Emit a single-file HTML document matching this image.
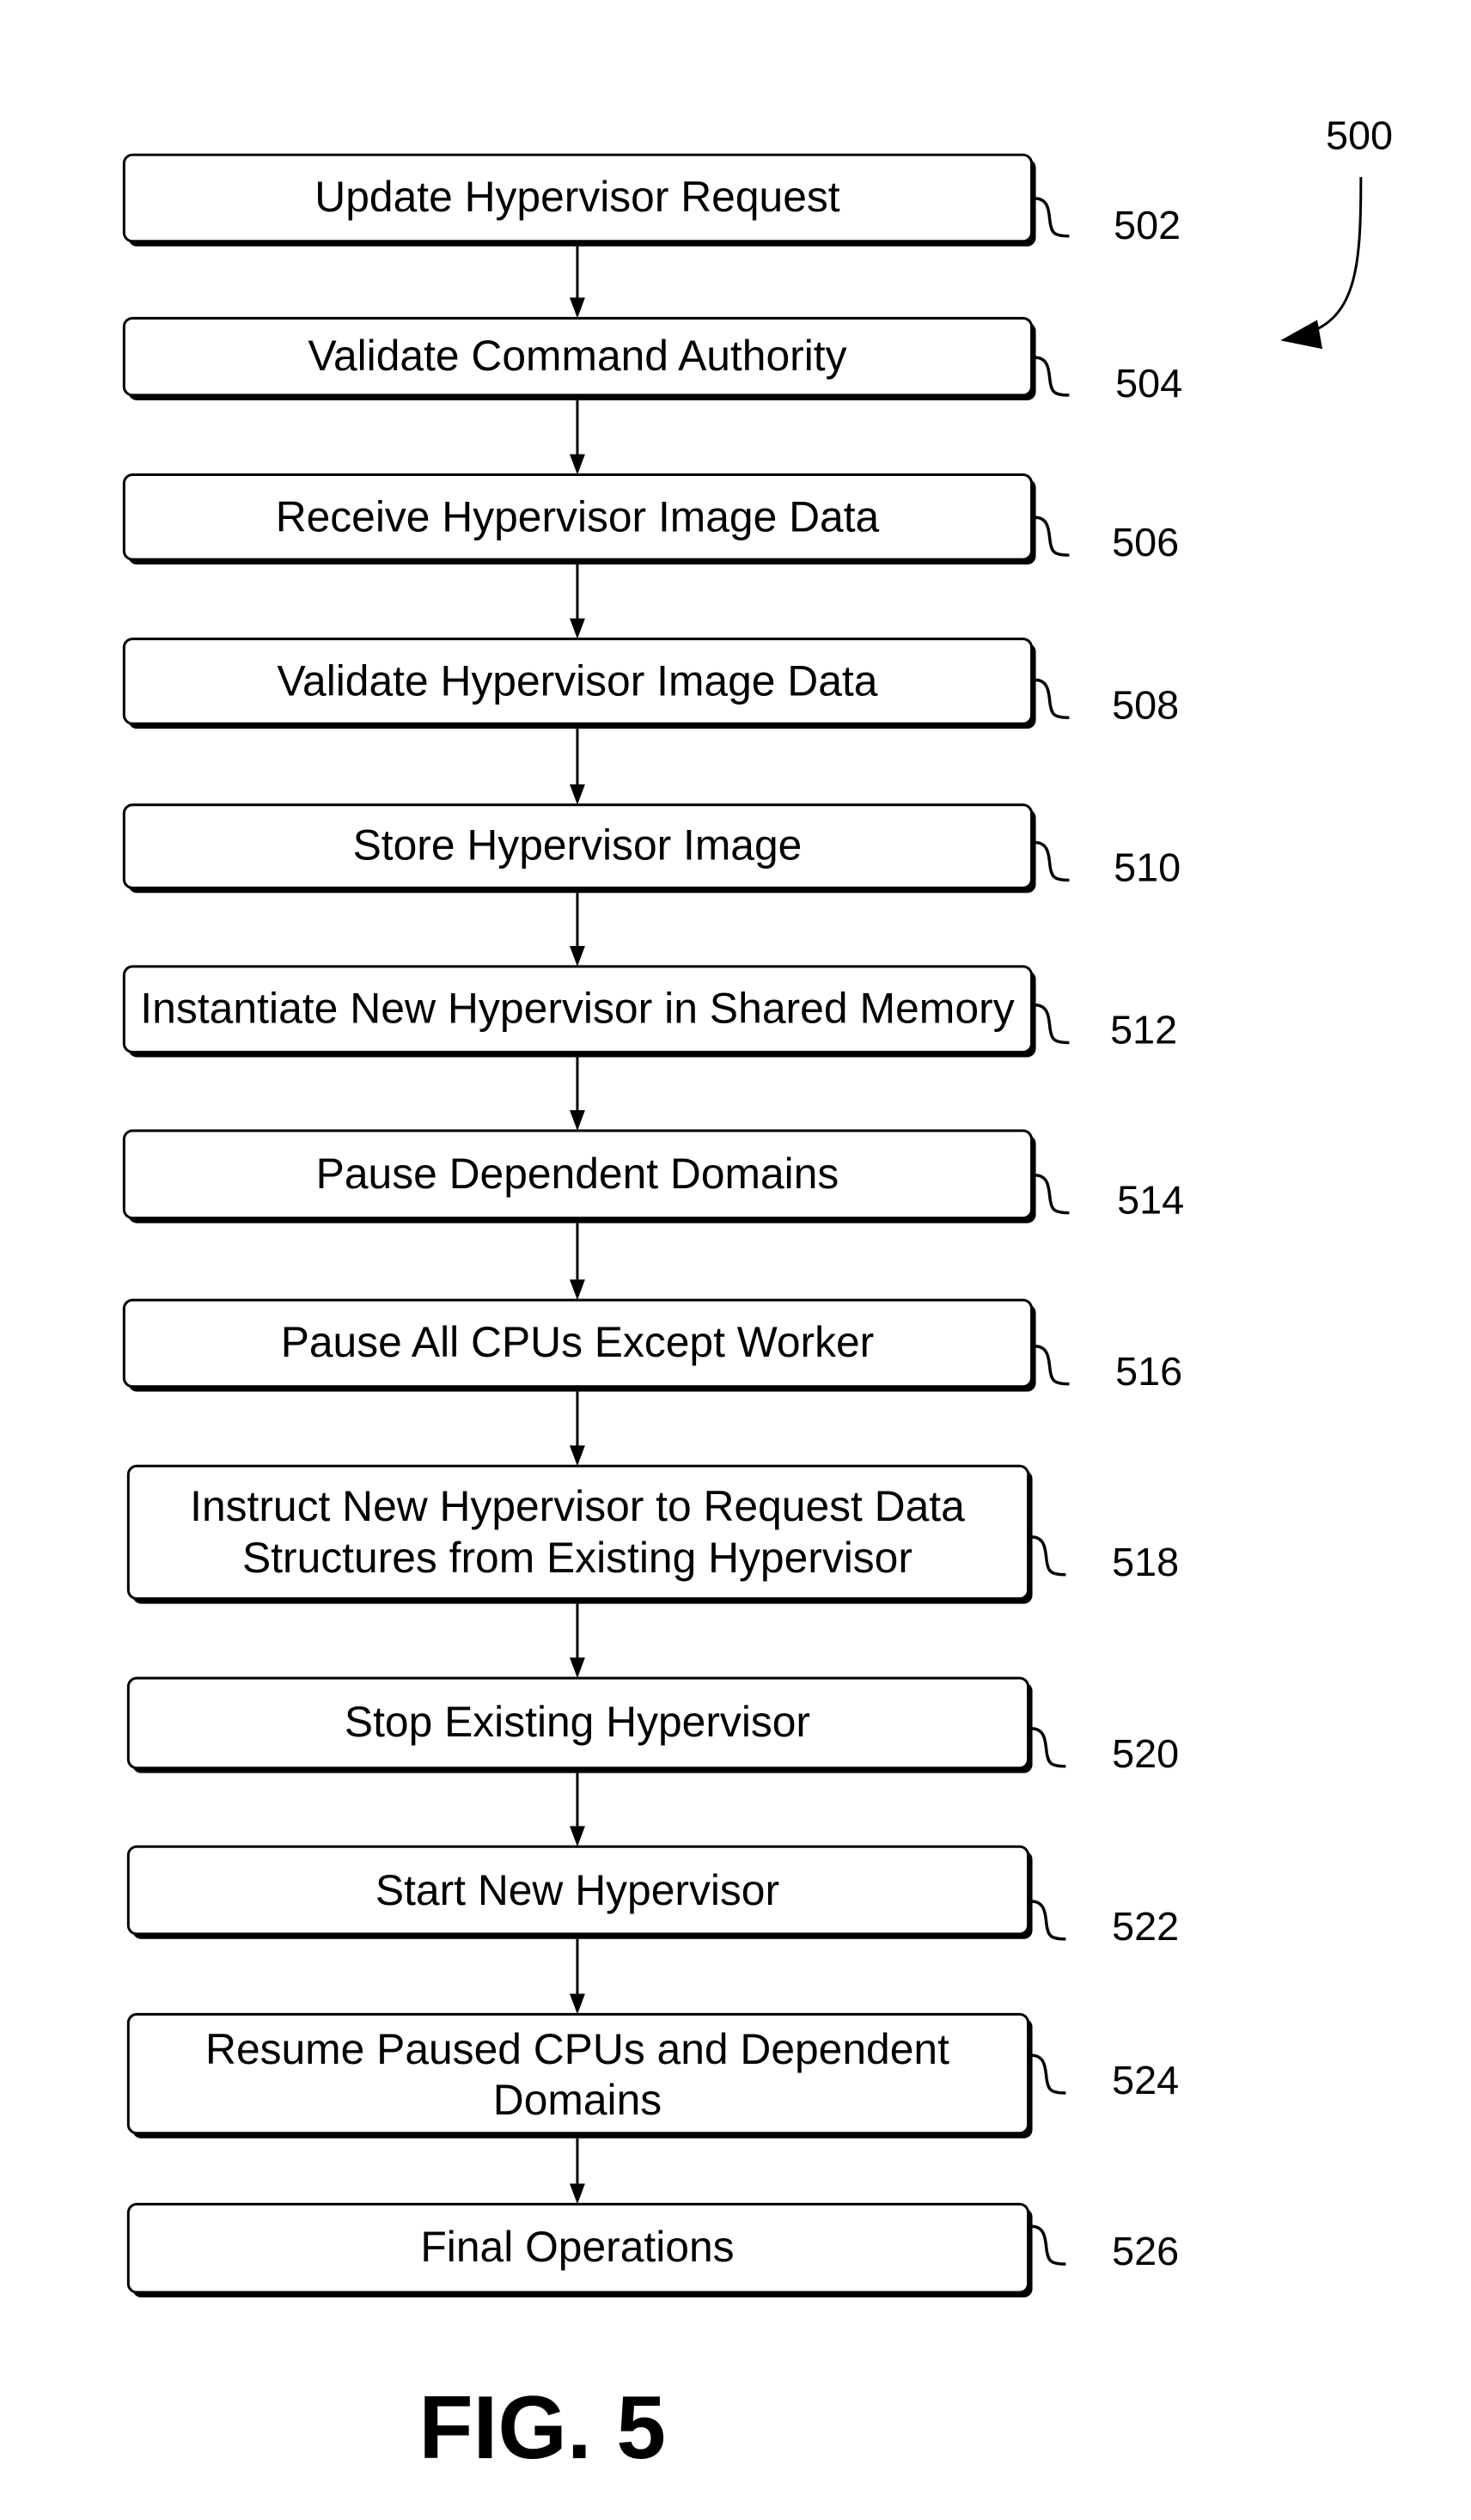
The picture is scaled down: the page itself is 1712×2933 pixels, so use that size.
<!DOCTYPE html>
<html><head><meta charset="utf-8"><style>html,body{margin:0;padding:0;background:#fff}svg{display:block}</style></head>
<body>
<svg width="1712" height="2933" viewBox="0 0 1712 2933" xmlns="http://www.w3.org/2000/svg" font-family="Liberation Sans, Arial, sans-serif">
<g transform="scale(0.9955)">
<g stroke="#000" stroke-width="3" fill="#fff">
<g fill="#000" stroke="none">
<rect x="150" y="186" width="1061" height="102" rx="10"/>
<rect x="150" y="377" width="1061" height="91" rx="10"/>
<rect x="150" y="560" width="1061" height="100" rx="10"/>
<rect x="150" y="752" width="1061" height="100" rx="10"/>
<rect x="150" y="946" width="1061" height="98" rx="10"/>
<rect x="150" y="1135" width="1061" height="101" rx="10"/>
<rect x="150" y="1327" width="1061" height="103" rx="10"/>
<rect x="150" y="1525" width="1061" height="102" rx="10"/>
<rect x="155" y="1719" width="1052" height="156" rx="10"/>
<rect x="155" y="1967" width="1052" height="106" rx="10"/>
<rect x="155" y="2164" width="1052" height="103" rx="10"/>
<rect x="155" y="2360" width="1052" height="140" rx="10"/>
<rect x="155" y="2582" width="1052" height="104" rx="10"/>
</g>
<rect x="145" y="181" width="1061" height="101" rx="10"/>
<rect x="145" y="372" width="1061" height="90" rx="10"/>
<rect x="145" y="555" width="1061" height="99" rx="10"/>
<rect x="145" y="747" width="1061" height="99" rx="10"/>
<rect x="145" y="941" width="1061" height="97" rx="10"/>
<rect x="145" y="1130" width="1061" height="100" rx="10"/>
<rect x="145" y="1322" width="1061" height="102" rx="10"/>
<rect x="145" y="1520" width="1061" height="101" rx="10"/>
<rect x="150" y="1714" width="1052" height="155" rx="10"/>
<rect x="150" y="1962" width="1052" height="105" rx="10"/>
<rect x="150" y="2159" width="1052" height="102" rx="10"/>
<rect x="150" y="2355" width="1052" height="139" rx="10"/>
<rect x="150" y="2577" width="1052" height="103" rx="10"/>
</g>
<g stroke="#000" stroke-width="3">
<line x1="675" y1="288" x2="675" y2="350"/>
<line x1="675" y1="468" x2="675" y2="533"/>
<line x1="675" y1="660" x2="675" y2="725"/>
<line x1="675" y1="852" x2="675" y2="919"/>
<line x1="675" y1="1044" x2="675" y2="1108"/>
<line x1="675" y1="1236" x2="675" y2="1300"/>
<line x1="675" y1="1430" x2="675" y2="1498"/>
<line x1="675" y1="1627" x2="675" y2="1692"/>
<line x1="675" y1="1875" x2="675" y2="1940"/>
<line x1="675" y1="2073" x2="675" y2="2137"/>
<line x1="675" y1="2267" x2="675" y2="2333"/>
<line x1="675" y1="2500" x2="675" y2="2555"/>
</g>
<g fill="#000">
<polygon points="666,348 684,348 675,372"/>
<polygon points="666,531 684,531 675,555"/>
<polygon points="666,723 684,723 675,747"/>
<polygon points="666,917 684,917 675,941"/>
<polygon points="666,1106 684,1106 675,1130"/>
<polygon points="666,1298 684,1298 675,1322"/>
<polygon points="666,1496 684,1496 675,1520"/>
<polygon points="666,1690 684,1690 675,1714"/>
<polygon points="666,1938 684,1938 675,1962"/>
<polygon points="666,2135 684,2135 675,2159"/>
<polygon points="666,2331 684,2331 675,2355"/>
<polygon points="666,2553 684,2553 675,2577"/>
</g>
<g font-size="50" text-anchor="middle" dominant-baseline="central" fill="#000">
<text x="675" y="230">Update Hypervisor Request</text>
<text x="675" y="416">Validate Command Authority</text>
<text x="675" y="604">Receive Hypervisor Image Data</text>
<text x="675" y="796">Validate Hypervisor Image Data</text>
<text x="675" y="988">Store Hypervisor Image</text>
<text x="675" y="1179" textLength="1022" lengthAdjust="spacingAndGlyphs">Instantiate New Hypervisor in Shared Memory</text>
<text x="675" y="1372">Pause Dependent Domains</text>
<text x="675" y="1569">Pause All CPUs Except Worker</text>
<text x="675" y="1761">Instruct New Hypervisor to Request Data</text>
<text x="675" y="1821">Structures from Existing Hypervisor</text>
<text x="675" y="2013">Stop Existing Hypervisor</text>
<text x="675" y="2210">Start New Hypervisor</text>
<text x="675" y="2396">Resume Paused CPUs and Dependent</text>
<text x="675" y="2455">Domains</text>
<text x="675" y="2627">Final Operations</text>
</g>
<g fill="none" stroke="#000" stroke-width="3.5">
<path d="M1210,232 c18,0 16,20 18,30 c2,10 4,14 22,14"/>
<path d="M1210,418 c18,0 16,20 18,30 c2,10 4,14 22,14"/>
<path d="M1210,605 c18,0 16,20 18,30 c2,10 4,14 22,14"/>
<path d="M1210,795 c18,0 16,20 18,30 c2,10 4,14 22,14"/>
<path d="M1210,985 c18,0 16,20 18,30 c2,10 4,14 22,14"/>
<path d="M1210,1175 c18,0 16,20 18,30 c2,10 4,14 22,14"/>
<path d="M1210,1374 c18,0 16,20 18,30 c2,10 4,14 22,14"/>
<path d="M1210,1574 c18,0 16,20 18,30 c2,10 4,14 22,14"/>
<path d="M1206,1797 c18,0 16,20 18,30 c2,10 4,14 22,14"/>
<path d="M1206,2021 c18,0 16,20 18,30 c2,10 4,14 22,14"/>
<path d="M1206,2223 c18,0 16,20 18,30 c2,10 4,14 22,14"/>
<path d="M1206,2403 c18,0 16,20 18,30 c2,10 4,14 22,14"/>
<path d="M1206,2603 c18,0 16,20 18,30 c2,10 4,14 22,14"/>
</g>
<g font-size="47" dominant-baseline="central" fill="#000">
<text x="1302" y="263">502</text>
<text x="1304" y="448">504</text>
<text x="1300" y="634">506</text>
<text x="1300" y="824">508</text>
<text x="1302" y="1014">510</text>
<text x="1298" y="1204">512</text>
<text x="1306" y="1403">514</text>
<text x="1304" y="1603">516</text>
<text x="1300" y="1826">518</text>
<text x="1300" y="2050">520</text>
<text x="1300" y="2252">522</text>
<text x="1300" y="2432">524</text>
<text x="1300" y="2632">526</text>
<text x="1550" y="158">500</text>
</g>
<path d="M1591,207 C1591,300 1588,365 1535,387" fill="none" stroke="#000" stroke-width="3"/>
<polygon points="1497,398 1540,374 1546,408" fill="#000"/>
<text x="634" y="2874" font-size="104" font-weight="bold" text-anchor="middle" fill="#000">FIG. 5</text>
</g>
</svg>
</body></html>
